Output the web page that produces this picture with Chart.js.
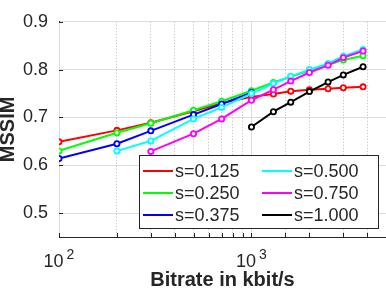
<!DOCTYPE html>
<html>
<head>
<meta charset="utf-8">
<script src="https://cdn.jsdelivr.net/npm/chart.js@4/dist/chart.umd.min.js"></script>
<style>
  body { margin: 0; background: #fff; }
  canvas { display: block; }
</style>
</head>
<body>
<canvas id="chart" width="386" height="293"></canvas>
<script>
// bitrates (kbit/s)
const rates = [100, 200, 300, 500, 700, 1000, 1300, 1600, 2000, 2500, 3000, 3800];
const labels = ["s=0.125", "s=0.250", "s=0.375", "s=0.500", "s=0.750", "s=1.000"];
const colors = ["#ff0000", "#00ff00", "#0000ff", "#00ffff", "#ff00ff", "#000000"];

// MSSIM per scale, null where the curve has no point
const s125 = [0.649, 0.673, 0.689, 0.713, 0.730, 0.743, 0.749, 0.755, 0.758, 0.760, 0.762, 0.764];
const s250 = [0.630, 0.668, 0.688, 0.715, 0.734, 0.756, 0.773, 0.785, 0.798, 0.810, 0.820, 0.829];
const s375 = [0.614, 0.645, 0.672, 0.706, 0.728, 0.752, null, null, null, null, null, null];
const s500 = [null, 0.630, 0.651, 0.697, 0.721, 0.750, 0.771, 0.786, 0.800, 0.813, 0.828, 0.842];
const s750 = [null, null, 0.629, 0.666, 0.697, 0.736, 0.758, 0.776, 0.794, 0.809, 0.825, 0.839];
const s1000 = [null, null, null, null, null, 0.680, 0.712, 0.732, 0.754, 0.774, 0.789, 0.806];

const yTicks = [0.5, 0.6, 0.7, 0.8, 0.9];
const xMajor = [100, 1000];

const series = [s125, s250, s375, s500, s750, s1000];
const axisColor = "#262626";
const font = "'Liberation Sans', Arial, sans-serif";

const datasets = series.map((vals, i) => ({
  label: labels[i],
  data: rates.map((r, j) => ({ x: r, y: vals[j] })).filter(p => p.y !== null),
  borderColor: colors[i],
  backgroundColor: "#ffffff",
  pointBorderColor: colors[i],
  borderWidth: 2,
  pointRadius: 2.6,
  pointBorderWidth: 1.8,
  order: series.length - i,   // later curves on top, like matlab
}));

// solid major grid lines, inward tick marks, 10^n labels
const axisDeco = {
  id: "axisDeco",
  beforeDatasetsDraw(chart) {
    const { ctx, chartArea: a, scales: { x, y } } = chart;
    ctx.save();
    ctx.strokeStyle = "#dcdcdc";
    ctx.lineWidth = 1;
    xMajor.forEach(v => {
      const px = Math.round(x.getPixelForValue(v)) + 0.5;
      ctx.beginPath(); ctx.moveTo(px, a.top); ctx.lineTo(px, a.bottom); ctx.stroke();
    });
    ctx.strokeStyle = axisColor;
    x.ticks.forEach(t => {
      const px = Math.round(x.getPixelForValue(t.value)) + 0.5;
      ctx.beginPath(); ctx.moveTo(px, a.bottom); ctx.lineTo(px, a.bottom - 4); ctx.stroke();
    });
    y.ticks.forEach(t => {
      const py = Math.round(y.getPixelForValue(t.value)) + 0.5;
      ctx.beginPath(); ctx.moveTo(a.left, py); ctx.lineTo(a.left + 4, py); ctx.stroke();
    });
    ctx.restore();
  },
  afterDraw(chart) {
    const { ctx, chartArea: a, scales: { x } } = chart;
    ctx.save();
    ctx.fillStyle = axisColor;
    ctx.textBaseline = "alphabetic";
    xMajor.forEach(v => {
      const px = x.getPixelForValue(v);
      const exp = String(Math.round(Math.log10(v)));
      ctx.font = "18px " + font;
      const wb = ctx.measureText("10").width;
      ctx.font = "14px " + font;
      const we = ctx.measureText(exp).width;
      const left = px - (wb + 3 + we) / 2;
      ctx.font = "18px " + font;
      ctx.fillText("10", left, a.bottom + 30);
      ctx.font = "14px " + font;
      ctx.fillText(exp, left + wb + 3, a.bottom + 22);
    });
    ctx.restore();
  }
};

// matlab-ish legend box inside the axes, two columns
const boxLegend = {
  id: "boxLegend",
  afterDraw(chart) {
    const ctx = chart.ctx;
    const ds = chart.data.datasets;
    ctx.save();
    ctx.fillStyle = "#fff";
    ctx.fillRect(139.5, 155.5, 239, 73);
    ctx.strokeStyle = axisColor;
    ctx.lineWidth = 1;
    ctx.strokeRect(139.5, 155.5, 239, 73);
    ctx.font = "18px " + font;
    ctx.textBaseline = "middle";
    ds.forEach((d, i) => {
      const col = Math.floor(i / 3), row = i % 3;
      const lx = 143 + col * 119, ly = 171 + row * 22;
      ctx.strokeStyle = d.borderColor;
      ctx.lineWidth = 2;
      ctx.beginPath(); ctx.moveTo(lx, ly); ctx.lineTo(lx + 30, ly); ctx.stroke();
      ctx.fillStyle = axisColor;
      ctx.fillText(d.label, lx + 32, ly + 1);
    });
    ctx.restore();
  }
};

new Chart(document.getElementById("chart"), {
  type: "line",
  data: { datasets: datasets },
  options: {
    responsive: false,
    animation: false,
    layout: { autoPadding: false, padding: { top: 7, right: 0, left: 0, bottom: 0 } },
    plugins: { legend: { display: false }, tooltip: { enabled: false } },
    scales: {
      x: {
        type: "logarithmic",
        min: 100,
        max: 5000,
        afterFit: s => { s.height = 56; },
        grid: {
          drawTicks: false,
          color: c => xMajor.includes(c.tick && c.tick.value) ? "rgba(0,0,0,0)" : "#bdbdbd",
        },
        border: { color: axisColor, width: 1, dash: [1, 2] },
        ticks: { display: false, autoSkip: false },
        title: {
          display: true,
          text: "Bitrate in kbit/s",
          color: axisColor,
          font: { family: font, size: 20, weight: "bold", lineHeight: 1.2 },
          padding: { top: 0, bottom: 1 },
        },
      },
      y: {
        min: 0.45,
        max: 0.9,
        afterFit: s => { s.width = 59; },
        afterBuildTicks: s => { s.ticks = yTicks.map(v => ({ value: v })); },
        grid: { drawTicks: false, color: "#dcdcdc" },
        border: { color: axisColor, width: 1 },
        ticks: {
          padding: 11,
          color: axisColor,
          font: { family: font, size: 18 },
          callback: v => v.toFixed(1),
        },
        title: {
          display: true,
          text: "MSSIM",
          color: axisColor,
          font: { family: font, size: 20, weight: "bold", lineHeight: 0.8 },
          padding: { top: 0, bottom: 0 },
        },
      },
    },
  },
  plugins: [axisDeco, boxLegend],
});
</script>
</body>
</html>
